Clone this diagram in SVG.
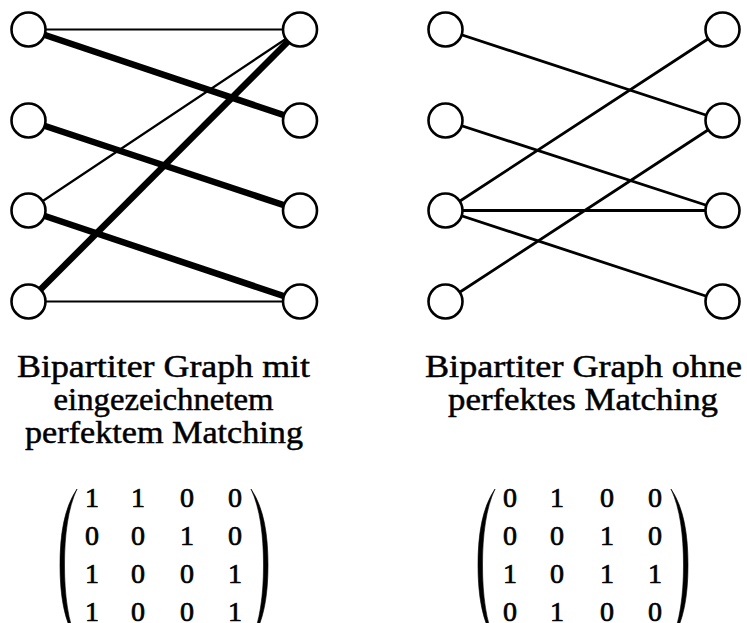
<svg xmlns="http://www.w3.org/2000/svg" width="747" height="623" viewBox="0 0 747 623">
  <style>
    .node { fill: #fff; stroke: #000; stroke-width: 2.6; }
    .thin { stroke: #000; stroke-width: 2.2; stroke-linecap: round; }
    .thick { stroke: #000; stroke-width: 6.5; stroke-linecap: butt; }
    .mid { stroke: #000; stroke-width: 2.8; stroke-linecap: round; }
    .cap { font-family: "Liberation Serif", "Times New Roman", serif; font-size: 32px; fill: #000; stroke: #000; stroke-width: 0.5; text-anchor: middle; }
    .num { font-family: "Liberation Serif", "Times New Roman", serif; font-size: 28px; fill: #000; stroke: #000; stroke-width: 0.7; text-anchor: middle; }
    .paren { fill: #000; stroke: #000; stroke-width: 0.6; }
  </style>
  <rect width="747" height="623" fill="#fff"/>

  <!-- left graph: edges -->
  <g id="edges-left">
    <line class="thin" x1="28.5" y1="29.5" x2="300" y2="29.5"/>
    <line class="thick" x1="28.5" y1="29.5" x2="300" y2="120.5"/>
    <line class="thick" x1="28.5" y1="120.5" x2="300" y2="210.5"/>
    <line class="thin" x1="28.5" y1="210.5" x2="300" y2="29.5"/>
    <line class="thick" x1="28.5" y1="210.5" x2="300" y2="301.5"/>
    <line class="thick" x1="28.5" y1="301.5" x2="300" y2="29.5"/>
    <line class="thin" x1="28.5" y1="301.5" x2="300" y2="301.5"/>
  </g>
  <!-- left graph: nodes -->
  <g id="a1"><circle class="node" cx="28.5" cy="29.5" r="17"/></g>
  <g id="a2"><circle class="node" cx="28.5" cy="120.5" r="17"/></g>
  <g id="a3"><circle class="node" cx="28.5" cy="210.5" r="17"/></g>
  <g id="a4"><circle class="node" cx="28.5" cy="301.5" r="17"/></g>
  <g id="b1"><circle class="node" cx="300" cy="29.5" r="17"/></g>
  <g id="b2"><circle class="node" cx="300" cy="120.5" r="17"/></g>
  <g id="b3"><circle class="node" cx="300" cy="210.5" r="17"/></g>
  <g id="b4"><circle class="node" cx="300" cy="301.5" r="17"/></g>

  <!-- right graph: edges -->
  <g id="edges-right">
    <line class="mid" x1="445.5" y1="29.5" x2="722.5" y2="120.5"/>
    <line class="mid" x1="445.5" y1="120.5" x2="722.5" y2="210.5"/>
    <line class="mid" x1="445.5" y1="210.5" x2="722.5" y2="29.5"/>
    <line class="mid" x1="445.5" y1="210.5" x2="722.5" y2="210.5"/>
    <line class="mid" x1="445.5" y1="210.5" x2="722.5" y2="301.5"/>
    <line class="mid" x1="445.5" y1="301.5" x2="722.5" y2="120.5"/>
  </g>
  <!-- right graph: nodes -->
  <g id="c1"><circle class="node" cx="445.5" cy="29.5" r="17"/></g>
  <g id="c2"><circle class="node" cx="445.5" cy="120.5" r="17"/></g>
  <g id="c3"><circle class="node" cx="445.5" cy="210.5" r="17"/></g>
  <g id="c4"><circle class="node" cx="445.5" cy="301.5" r="17"/></g>
  <g id="d1"><circle class="node" cx="722.5" cy="29.5" r="17"/></g>
  <g id="d2"><circle class="node" cx="722.5" cy="120.5" r="17"/></g>
  <g id="d3"><circle class="node" cx="722.5" cy="210.5" r="17"/></g>
  <g id="d4"><circle class="node" cx="722.5" cy="301.5" r="17"/></g>

  <!-- captions -->
  <g id="caption-left">
    <text class="cap" x="163.5" y="377" textLength="293" lengthAdjust="spacingAndGlyphs">Bipartiter Graph mit</text>
    <text class="cap" x="163.5" y="410" textLength="220" lengthAdjust="spacingAndGlyphs">eingezeichnetem</text>
    <text class="cap" x="164" y="443" textLength="278" lengthAdjust="spacingAndGlyphs">perfektem Matching</text>
  </g>
  <g id="caption-right">
    <text class="cap" x="583.5" y="377" textLength="317" lengthAdjust="spacingAndGlyphs">Bipartiter Graph ohne</text>
    <text class="cap" x="583" y="410" textLength="270" lengthAdjust="spacingAndGlyphs">perfektes Matching</text>
  </g>

  <!-- adjacency matrix, left graph -->
  <g id="matrix-left">
    <path class="paren" d="M77,489 C64,508 60,535 60,565 C60,595 64,622 77,641 C68,622 64.5,595 64.5,565 C64.5,535 68,508 77,489 Z"/>
    <path class="paren" d="M251,489 C264,508 268,535 268,565 C268,595 264,622 251,641 C260,622 263.5,595 263.5,565 C263.5,535 260,508 251,489 Z"/>
    <g class="num">
      <text x="92" y="507">1</text><text x="138" y="507">1</text><text x="187" y="507">0</text><text x="235" y="507">0</text>
      <text x="92" y="545">0</text><text x="138" y="545">0</text><text x="187" y="545">1</text><text x="235" y="545">0</text>
      <text x="92" y="583">1</text><text x="138" y="583">0</text><text x="187" y="583">0</text><text x="235" y="583">1</text>
      <text x="92" y="621">1</text><text x="138" y="621">0</text><text x="187" y="621">0</text><text x="235" y="621">1</text>
    </g>
  </g>

  <!-- adjacency matrix, right graph -->
  <g id="matrix-right">
    <path class="paren" d="M495,489 C482,508 478,535 478,565 C478,595 482,622 495,641 C486,622 482.5,595 482.5,565 C482.5,535 486,508 495,489 Z"/>
    <path class="paren" d="M671,489 C684,508 688,535 688,565 C688,595 684,622 671,641 C680,622 683.5,595 683.5,565 C683.5,535 680,508 671,489 Z"/>
    <g class="num">
      <text x="510" y="507">0</text><text x="557" y="507">1</text><text x="607" y="507">0</text><text x="655" y="507">0</text>
      <text x="510" y="545">0</text><text x="557" y="545">0</text><text x="607" y="545">1</text><text x="655" y="545">0</text>
      <text x="510" y="583">1</text><text x="557" y="583">0</text><text x="607" y="583">1</text><text x="655" y="583">1</text>
      <text x="510" y="621">0</text><text x="557" y="621">1</text><text x="607" y="621">0</text><text x="655" y="621">0</text>
    </g>
  </g>
</svg>
